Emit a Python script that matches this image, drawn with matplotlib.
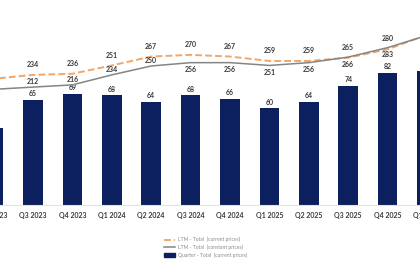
import matplotlib
matplotlib.use('Agg')
import matplotlib.pyplot as plt
import numpy as np

QUARTERS = ['Q2 2023', 'Q3 2023', 'Q4 2023', 'Q1 2024', 'Q2 2024', 'Q3 2024',
            'Q4 2024', 'Q1 2025', 'Q2 2025', 'Q3 2025', 'Q4 2025', 'Q1 2026']
QUARTER_TOTAL = [48, 65, 69, 68, 64, 68, 66, 60, 64, 74, 82, 83]
LTM_CURRENT = [227, 234, 236, 251, 267, 270, 267, 259, 259, 265, 280, 306]
LTM_CONSTANT = [208, 212, 216, 234, 250, 256, 256, 251, 256, 266, 283, 305]

NAVY = '#0c1f5e'
ORANGE = '#f2a66a'
GREY = '#858585'
LABEL = '#3a3a3a'

plt.rcParams['font.family'] = ['Lato', 'DejaVu Sans']

fig = plt.figure(figsize=(4.2, 2.8), dpi=100)
# the source is a crop of a wider chart: let the axes run past the figure edges
ax = fig.add_axes([-50 / 420, 0.268, 520 / 420, 0.732])
x = np.arange(len(QUARTERS))

ax.bar(x, QUARTER_TOTAL, width=0.5, color=NAVY, zorder=2)
ax.set_ylim(0, 127.2)
for xi, v in zip(x, QUARTER_TOTAL):
    ax.annotate(str(v), (xi, v), xytext=(0, 2), textcoords='offset points',
                ha='center', va='bottom', fontsize=5, fontweight='bold', color=LABEL)

ax.set_xticks(x)
ax.set_xticklabels(QUARTERS, fontsize=5, fontweight='bold', color=LABEL)
ax.tick_params(axis='x', length=0, pad=5)
ax.set_yticks([])
for s in ['top', 'left', 'right']:
    ax.spines[s].set_visible(False)
ax.spines['bottom'].set_color('#dfe3ec')
ax.spines['bottom'].set_linewidth(0.8)

ax2 = ax.twinx()
ax2.set_ylim(0, 368.7)
ax2.set_yticks([])
for s in ['top', 'left', 'right', 'bottom']:
    ax2.spines[s].set_visible(False)
l1, = ax2.plot(x, LTM_CURRENT, color=ORANGE, lw=1.4, ls=(0, (3.5, 1.6)), zorder=3)
l2, = ax2.plot(x, LTM_CONSTANT, color=GREY, lw=1.1, zorder=3)

for xi, cur, con in zip(x, LTM_CURRENT, LTM_CONSTANT):
    ax2.annotate(str(cur), (xi, cur), xytext=(0, 7.5), textcoords='offset points',
                 ha='center', va='center', fontsize=5, fontweight='bold', color=LABEL)
    dy = 3.8 if cur - con > 15 else -5
    ax2.annotate(str(con), (xi, con), xytext=(0, dy), textcoords='offset points',
                 ha='center', va='center', fontsize=5, fontweight='bold', color=LABEL)

ax.set_xlim(-1.107, 12.09)
ax2.set_xlim(-1.107, 12.09)

bar_handle = plt.Rectangle((0, 0), 1, 1, color=NAVY)
fig.legend([l1, l2, bar_handle],
           ['LTM - Total  (current prices)', 'LTM - Total  (constant prices)',
            'Quarter - Total  (current prices)'],
           loc='upper left', bbox_to_anchor=(0.385, 0.163), frameon=False,
           fontsize=3.6, labelcolor='#8a8a8a', handlelength=2.2, handletextpad=0.5,
           labelspacing=0.45, borderpad=0)

fig.savefig('out.png', dpi=100)
